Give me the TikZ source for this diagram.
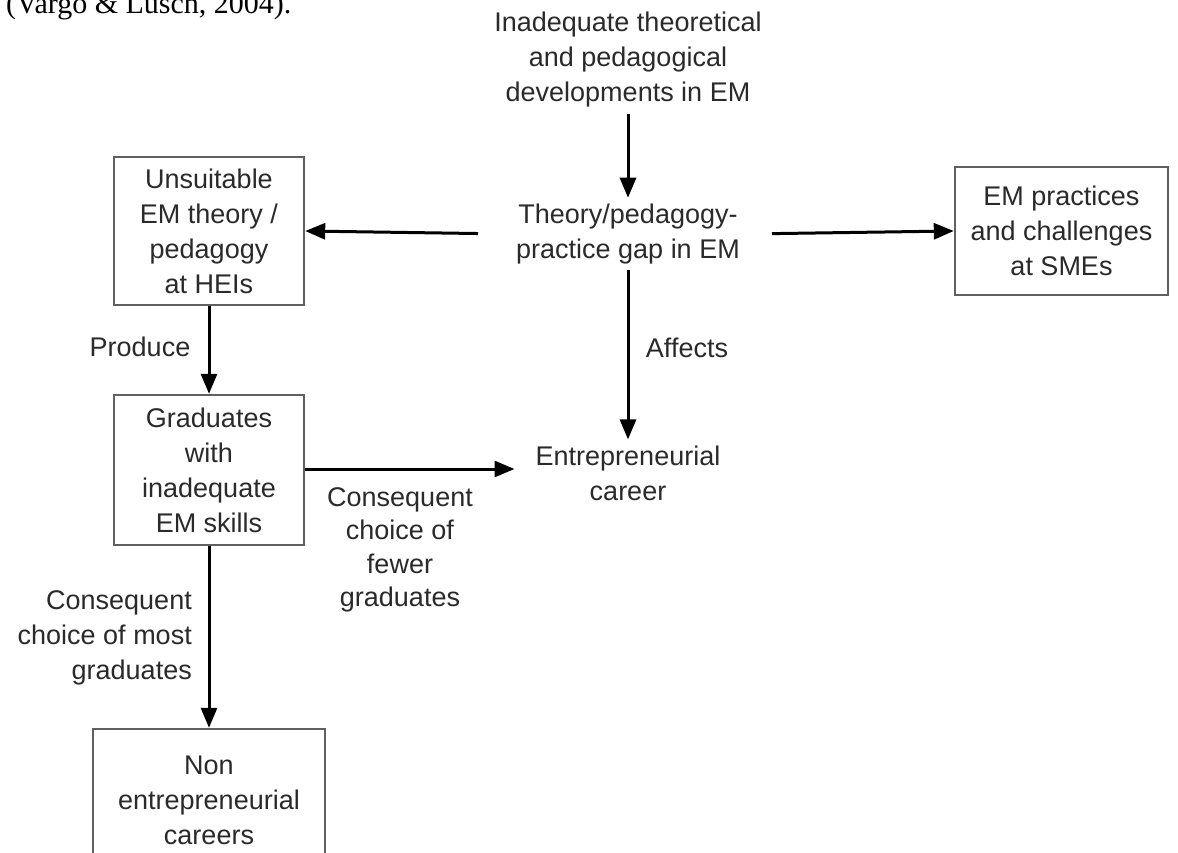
\documentclass[tikz,border=0pt]{standalone}
\usepackage{fontspec}
\setmainfont{Liberation Sans}
\newfontfamily\citefont{Liberation Serif}
\usetikzlibrary{arrows.meta}
\definecolor{txt}{HTML}{2A2A2A}
\definecolor{boxline}{HTML}{606060}
\tikzset{
  lbl/.style={text=txt, align=center, inner sep=6pt, font=\fontsize{27}{35}\selectfont},
  boxnode/.style={lbl, draw=boxline, line width=2.4pt, minimum width=190pt},
  arr/.style={draw=black, line width=3pt, -{Triangle[length=20pt,width=16pt]}}
}
\begin{document}
\begin{tikzpicture}[x=1pt,y=1pt]
\useasboundingbox (0,0) rectangle (1178,-853);
\clip (0,0) rectangle (1178,-853);
\fill[white] (0,0) rectangle (1178,-853);
% cut-off citation at top
\node[anchor=base west, inner sep=0pt, text=black, font=\citefont\fontsize{30}{36}\selectfont] (cite) at (6,-14) {(Vargo \& Lusch, 2004).};
% nodes
\node[lbl] (top) at (628,-60) {Inadequate theoretical\\and pedagogical\\developments in EM};
\node[lbl] (gap) at (628,-234) {Theory/pedagogy-\\practice gap in EM};
\node[lbl] (entr) at (628,-473) {Entrepreneurial\\career};
\node[boxnode, minimum height=148pt] (hei) at (209,-231) {Unsuitable\\EM theory /\\pedagogy\\at HEIs};
\node[boxnode, minimum height=150pt] (grad) at (209,-470) {Graduates\\with\\inadequate\\EM skills};
\node[boxnode, minimum width=213pt, minimum height=128pt] (sme) at (1061.5,-231) {EM practices\\and challenges\\at SMEs};
\node[boxnode, minimum width=232pt, minimum height=142pt] (non) at (209,-800) {Non\\entrepreneurial\\careers};
% labels
\node[lbl] (produce) at (140,-347) {Produce};
\node[lbl] (affects) at (687,-348) {Affects};
\node[lbl, font=\fontsize{27}{33.5}\selectfont] (fewer) at (400,-550) {Consequent\\choice of\\fewer\\graduates};
\node[lbl, align=right, anchor=east, inner sep=0pt] (most) at (192,-638) {Consequent\\choice of most\\graduates};
% connectors
\draw[arr] (top.south) -- (gap.north);
\draw[arr, shorten <=32pt] (gap.west) -- (hei.east);
\draw[arr, shorten <=26pt] (gap.east) -- (sme.west);
\draw[arr] (gap.south) -- (entr.north);
\draw[arr] (hei.south) -- (grad.north);
\draw[arr, shorten >=15pt] ([yshift=1pt]grad.east) -- ([yshift=1pt]grad.east -| entr.west);
\draw[arr] (grad.south) -- (non.north);
\end{tikzpicture}
\end{document}
